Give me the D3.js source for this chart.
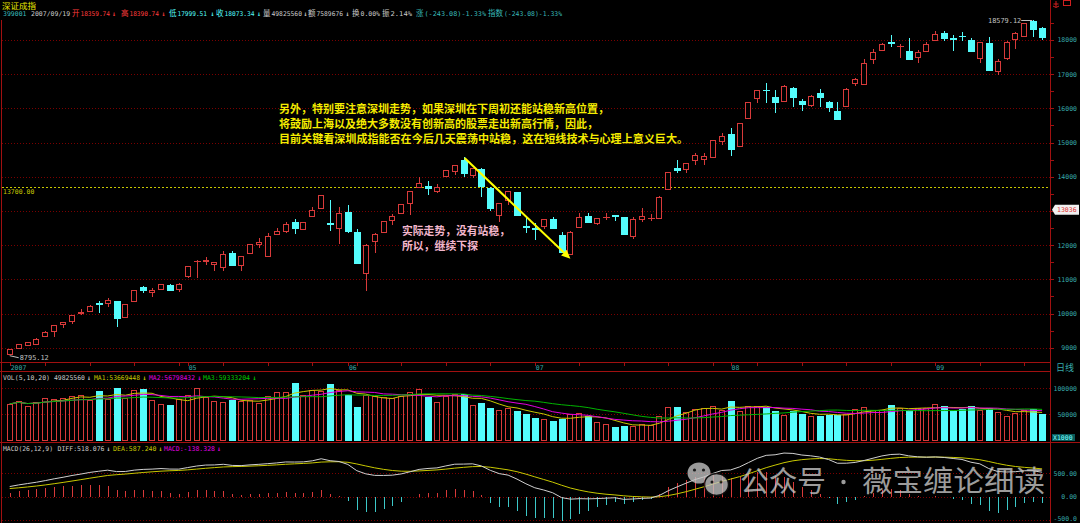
<!DOCTYPE html>
<html><head><meta charset="utf-8">
<script src="https://cdn.jsdelivr.net/npm/d3@7"></script>
<style>html,body{margin:0;padding:0;background:#000;overflow:hidden}svg{display:block}</style>
</head><body><svg id="c" width="1080" height="523"></svg>
<script>
// ---------------- data ----------------
const monthLabels = ["2007","05","06","07","08","09"];
const monthDays   = [20,18,21,22,23,13];
const openP  = [8825,8983,9088,9109,9333,9497,9693,9790,10010,10064,10295,10316,10357,9889,10375,10775,10620,10725,10842,10725,
 11106,11525,11527,11448,11369,11761,11409,11778,12041,11682,12316,12421,12676,12480,12842,13094,12650,12491,12959,12392,
 11184,12129,12383,12725,12948,13240,13690,13737,13591,14012,14176,14497,14041,14225,13679,12872,13319,13544,12560,12500,
 12567,12772,12304,11731,12521,12860,12638,12810,12870,12813,12275,12763,12780,12784,13632,14255,14217,14489,14527,14568,
 15053,15249,14898,15708,16293,16545,16339,16205,16594,16214,16097,16439,16193,15930,16076,16731,16702,17451,17705,17925,
 17820,17676,17500,17685,17989,18211,18050,18110,17989,17480,17910,17091,17480,18027,18123,18553,18359.74];
const highP  = [8975,9115,9170,9275,9488,9670,9760,9960,10130,10240,10375,10445,10370,10287,10700,10805,10737,10870,10855,10880,
 11395,11565,11644,11520,11819,11819,11695,12040,12199,12363,12491,12667,12772,12690,13106,13470,13319,13106,13173,12462,
 12030,12340,12710,12910,13210,13590,13983,13866,13778,14210,14345,14576,14260,14240,13690,13235,13590,13560,12793,12638,
 12770,12831,12383,12410,12930,12948,12800,12948,12880,12830,12813,13094,12910,13430,14145,14480,14405,14685,14685,15080,
 15269,15415,15575,16190,16540,16731,16535,16675,16610,16272,16375,16556,16205,16185,16590,16880,17433,17725,17895,18135,
 17872,18047,17705,17930,18261,18261,18144,18231,18047,17945,18076,17451,17960,18225,18500,18579.12,18390.74];
const lowP   = [8795.12,8970,9075,9100,9320,9322,9567,9693,9955,10050,10006,10181,9614,9870,10360,10609,10492,10710,10658,10638,
 11029,11030,11409,11252,11252,11390,11252,11765,11924,11665,12300,12345,12316,12465,12830,13080,12421,12024,12345,11460,
 10658,11778,12370,12588,12935,12880,13675,13465,13515,14000,14050,14000,13954,13415,13006,12667,13164,12870,12363,12149,
 12462,12495,11785,11715,12505,12670,12588,12734,12705,12320,12170,12667,12705,12770,13615,14100,14100,14342,14342,14550,
 14927,14614,14880,15690,16147,16164,15872,16190,16030,15921,16030,16047,15883,15665,16060,16661,16690,17287,17690,17784,
 17480,17435,17316,17670,17975,17968,17685,17977,17670,17316,17082,16965,17413,17734,18110,18094,17999.51];
const closeP = [8962,9100,9158,9263,9468,9655,9743,9948,10030,10228,10280,10395,9877,10269,10687,10678,10687,10854,10687,10863,
 11380,11540,11573,11506,11740,11409,11682,12024,12100,12266,12413,12626,12509,12676,13027,13456,12630,12930,12421,11477,
 12012,12325,12696,12851,13193,13573,13816,13661,13699,14196,14333,14108,14246,13737,13094,13222,13573,12889,12540,12480,
 12755,12509,11799,12392,12831,12684,12784,12830,12855,12334,12755,12842,12790,13415,14129,14187,14392,14626,14614,15065,
 15190,14810,15562,16176,16527,16530,16193,16661,16331,16117,16360,16322,16047,15679,16573,16866,17325,17638,17880,17915,
 17830,17451,17647,17872,18164,18056,18035,18100,17685,17930,17120,17392,17948,18211,18486,18319,18073.34];
const volume = [69960,75960,65960,73960,81970,79970,81970,85980,87980,77970,95320,79300,100660,80640,95990,98660,76630,69960,67960,79300,
 87310,99990,83310,74630,73960,77970,74630,76630,72630,85980,92650,92650,110670,87310,97320,95320,108670,97320,86650,64620,
 87310,85980,83310,81310,85980,92650,97990,83310,73960,85310,88650,88650,67960,72630,61280,57950,61950,56610,50610,41930,
 41260,35920,41260,49940,51940,46600,33920,31250,25910,27910,27910,31250,29250,45930,64620,64620,54610,59950,61280,65960,
 57950,74630,56610,65960,65960,64620,56610,47940,55940,51270,46600,47270,49270,49270,49940,59950,64620,57950,57950,67290,
 62620,57950,61280,61280,69290,66620,56610,59280,66620,57950,62620,54610,45930,53280,58610,59280,49825.56];
const priceTicks = [9000,10000,11000,12000,13000,14000,15000,16000,17000,18000];
const volTicks   = [{v:100000,t:"100000"},{v:50000,t:"50000"}];
const macdTicks  = [{v:500,t:"500.00"},{v:0,t:"0.00"},{v:-500,t:"-500.0"}];
// EMA states carried in from before the first visible day
const ema12Seed = 8380, ema26Seed = 8200, deaSeed = 160;
const refLine = 13700, cursorPrice = 13036;

// ---------------- setup ----------------
const N = closeP.length;
const svg = d3.select("#c");
const RED = "#d83a3a", CYAN = "#54fcfc", GRIDRED = "#7a0000", AXRED = "#a01010";
const mono = "'DejaVu Sans Mono','Liberation Mono',monospace";
const cjk = "'Noto Sans CJK SC','Noto Sans',sans-serif";
const FS = 6.5;

const x = d3.scaleBand().domain(d3.range(N)).range([5.25, 1046.55]).padding(0);
const cx = i => x(i) + x.bandwidth() / 2;
const y = d3.scaleLinear().domain([9000, 18000]).range([347.7, 39.9]);
const yv = d3.scaleLinear().domain([0, 100000]).range([440, 388.4]);
const ym = d3.scaleLinear().domain([-500, 500]).range([520.2, 473]);

svg.append("rect").attr("width",1080).attr("height",523).attr("fill","#000");

// frame lines
const frame = svg.append("g").attr("stroke", AXRED).attr("stroke-width",1).attr("shape-rendering","crispEdges");
frame.append("line").attr("x1",1.5).attr("x2",1.5).attr("y1",20).attr("y2",523);
frame.append("line").attr("x1",1050.5).attr("x2",1050.5).attr("y1",0).attr("y2",523);
frame.append("line").attr("x1",0).attr("x2",1050).attr("y1",362.5).attr("y2",362.5);
frame.append("line").attr("x1",0).attr("x2",1050).attr("y1",371.5).attr("y2",371.5);
frame.append("line").attr("x1",0).attr("x2",1080).attr("y1",442.5).attr("y2",442.5);

// grids
const grid = svg.append("g").attr("stroke", GRIDRED).attr("stroke-dasharray","1,2").attr("shape-rendering","crispEdges");
priceTicks.forEach(t => grid.append("line").attr("x1",2).attr("x2",1050).attr("y1",Math.round(y(t))+0.5).attr("y2",Math.round(y(t))+0.5));
volTicks.forEach(t => grid.append("line").attr("x1",2).attr("x2",1050).attr("y1",Math.round(yv(t.v))+0.5).attr("y2",Math.round(yv(t.v))+0.5));
macdTicks.forEach(t => grid.append("line").attr("x1",2).attr("x2",1050).attr("y1",Math.round(ym(t.v))+0.5).attr("y2",Math.round(ym(t.v))+0.5));

// right axis ticks and labels
const rax = svg.append("g");
d3.range(9000, 18501, 500).forEach(v => {
  rax.append("line").attr("x1",1051).attr("x2",1054).attr("y1",Math.round(y(v))+0.5).attr("y2",Math.round(y(v))+0.5)
     .attr("stroke",AXRED).attr("shape-rendering","crispEdges");
});
const AXC = "#36a8a8";
priceTicks.forEach(t => rax.append("text").attr("x",1077).attr("y",y(t)+2.5).attr("text-anchor","end")
  .attr("font-family",mono).attr("font-size",FS).attr("fill",AXC).text(t));
volTicks.forEach(t => rax.append("text").attr("x",1077).attr("y",yv(t.v)+2.5).attr("text-anchor","end")
  .attr("font-family",mono).attr("font-size",FS).attr("fill",AXC).text(t.t));
macdTicks.forEach(t => rax.append("text").attr("x",1077).attr("y",Math.min(ym(t.v)+2.5, 521)).attr("text-anchor","end")
  .attr("font-family",mono).attr("font-size",FS).attr("fill",AXC).text(t.t));
rax.append("text").attr("x",1056).attr("y",371).attr("font-family",cjk).attr("font-size",9).attr("fill",AXC).text("日线");
rax.append("rect").attr("x",1052).attr("y",434).attr("width",23).attr("height",7).attr("fill","#0a5a5a");
rax.append("text").attr("x",1053).attr("y",440).attr("font-family",mono).attr("font-size",FS).attr("fill","#7ff").text("X1000");

// x axis ticks and month labels
const xax = svg.append("g");
d3.range(N).filter(i => i % 5 === 4).forEach(i => xax.append("line").attr("x1",Math.round(cx(i))+0.5).attr("x2",Math.round(cx(i))+0.5)
  .attr("y1",363).attr("y2",366).attr("stroke",AXRED));
let start = 0;
monthLabels.forEach((m, k) => {
  xax.append("line").attr("x1",Math.round(cx(start))+0.5).attr("x2",Math.round(cx(start))+0.5).attr("y1",363).attr("y2",366).attr("stroke",AXRED);
  xax.append("text").attr("x",cx(start)+1).attr("y",370).attr("font-family",mono).attr("font-size",FS).attr("fill",AXC).text(m);
  start += monthDays[k];
});

// reference dashed line 13700
svg.append("line").attr("x1",2).attr("x2",1050).attr("y1",Math.round(y(refLine))+0.5).attr("y2",Math.round(y(refLine))+0.5)
  .attr("stroke","#c8c800").attr("stroke-dasharray","2,2").attr("shape-rendering","crispEdges");
svg.append("text").attr("x",3).attr("y",y(refLine)+7.5).attr("font-family",mono).attr("font-size",FS).attr("fill","#c8c800").text("13700.00");

// ---------------- candles ----------------
const cg = svg.append("g").attr("shape-rendering","crispEdges");
d3.range(N).forEach(i => {
  const up = closeP[i] >= openP[i];
  const col = up ? RED : CYAN;
  const xc = Math.round(cx(i)) + 0.5;
  const top = Math.round(y(Math.max(openP[i], closeP[i])));
  const bot = Math.round(y(Math.min(openP[i], closeP[i])));
  const hi = Math.round(y(highP[i])), lo = Math.round(y(lowP[i]));
  const left = Math.round(cx(i)) - 3;
  if (up) {
    if (hi < top) cg.append("line").attr("x1",xc).attr("x2",xc).attr("y1",hi).attr("y2",top).attr("stroke",col);
    if (lo > bot) cg.append("line").attr("x1",xc).attr("x2",xc).attr("y1",bot).attr("y2",lo).attr("stroke",col);
    if (bot - top < 1) cg.append("line").attr("x1",left).attr("x2",left+7).attr("y1",top+0.5).attr("y2",top+0.5).attr("stroke",col);
    else cg.append("rect").attr("x",left+0.5).attr("y",top+0.5).attr("width",5).attr("height",bot-top).attr("fill","#000").attr("stroke",col);
  } else {
    cg.append("line").attr("x1",xc).attr("x2",xc).attr("y1",hi).attr("y2",lo).attr("stroke",col);
    if (bot - top < 1) cg.append("line").attr("x1",left).attr("x2",left+7).attr("y1",top+0.5).attr("y2",top+0.5).attr("stroke",col);
    else cg.append("rect").attr("x",left).attr("y",top).attr("width",7).attr("height",bot-top+1).attr("fill",col);
  }
});

// extreme labels
const lowI = d3.minIndex(lowP), highI = d3.maxIndex(highP);
svg.append("line").attr("x1",cx(lowI)).attr("y1",y(lowP[lowI])+1).attr("x2",cx(lowI)+9).attr("y2",y(lowP[lowI])+3).attr("stroke","#c0c0c0");
svg.append("text").attr("x",cx(lowI)+10).attr("y",y(lowP[lowI])+5.5).attr("font-family",mono).attr("font-size",FS+0.4).attr("fill","#c0c0c0").text(d3.format(".2f")(lowP[lowI]));
svg.append("line").attr("x1",cx(highI)-12).attr("y1",Math.round(y(highP[highI]))+0.5).attr("x2",cx(highI)-1).attr("y2",Math.round(y(highP[highI]))+0.5).attr("stroke","#c0c0c0");
svg.append("text").attr("x",cx(highI)-12).attr("y",y(highP[highI])+2.5).attr("text-anchor","end").attr("font-family",mono).attr("font-size",FS+0.4).attr("fill","#c0c0c0").text(d3.format(".2f")(highP[highI]));

// cursor price tag
const cy = y(cursorPrice);
svg.append("path").attr("d",`M1052,${cy} L1055,${cy-5} L1079,${cy-5} L1079,${cy+5} L1055,${cy+5} Z`).attr("fill","#f0f0f0");
svg.append("text").attr("x",1057).attr("y",cy+2.5).attr("font-family",mono).attr("font-size",FS).attr("fill","#e03030").text(cursorPrice);

// ---------------- volume ----------------
const vg = svg.append("g").attr("shape-rendering","crispEdges");
d3.range(N).forEach(i => {
  const up = closeP[i] >= openP[i];
  const left = Math.round(cx(i)) - 3;
  const t = Math.round(yv(volume[i]));
  if (up) vg.append("rect").attr("x",left+0.5).attr("y",t+0.5).attr("width",5).attr("height",440-t).attr("fill","none").attr("stroke",RED);
  else vg.append("rect").attr("x",left).attr("y",t).attr("width",7).attr("height",441-t).attr("fill",CYAN);
});
function sma(arr, n) { return arr.map((_, i) => d3.mean(arr.slice(Math.max(0, i - n + 1), i + 1))); }
const volMA = [{n:5,c:"#c8c800"},{n:10,c:"#e000e0"},{n:20,c:"#00b400"}];
volMA.forEach(m => {
  const s = sma(volume, m.n);
  svg.append("path").attr("d", d3.line().x((d,i)=>cx(i)).y(d=>yv(d))(s)).attr("fill","none").attr("stroke",m.c).attr("stroke-width",1);
});

// ---------------- MACD ----------------
let e12 = ema12Seed, e26 = ema26Seed, dea = deaSeed;
const diff = [], deaA = [], hist = [];
closeP.forEach(c => {
  e12 = (2 * c + 11 * e12) / 13;
  e26 = (2 * c + 25 * e26) / 27;
  const d = e12 - e26;
  dea = (2 * d + 8 * dea) / 10;
  diff.push(d); deaA.push(dea); hist.push(2 * (d - dea));
});
const mg = svg.append("g").attr("shape-rendering","crispEdges");
hist.forEach((h, i) => {
  const xc = Math.round(cx(i)) + 0.5;
  mg.append("line").attr("x1",xc).attr("x2",xc).attr("y1",ym(0)).attr("y2",ym(h)).attr("stroke", h >= 0 ? RED : "#3cc8c8");
});
svg.append("path").attr("d", d3.line().x((d,i)=>cx(i)).y(d=>ym(d))(deaA)).attr("fill","none").attr("stroke","#c8c800").attr("stroke-width",1);
svg.append("path").attr("d", d3.line().x((d,i)=>cx(i)).y(d=>ym(d))(diff)).attr("fill","none").attr("stroke","#d0d0d0").attr("stroke-width",1);

// ---------------- text headers ----------------
function seg(s, x0, yy, col, w) {
  const t = svg.append("text").attr("x",x0).attr("y",yy).attr("font-family",mono).attr("font-size",FS).attr("fill",col).text(s);
  if (w) t.attr("textLength", w).attr("lengthAdjust","spacingAndGlyphs");
  return t;
}
function cj(s, x0, yy, col) {
  return svg.append("text").attr("x",x0).attr("y",yy).attr("font-family",cjk).attr("font-size",7.5).attr("fill",col).text(s);
}
function arrow(x0, yy, col) {
  return svg.append("text").attr("x",x0).attr("y",yy).attr("font-family",mono).attr("font-size",FS).attr("font-weight","bold").attr("fill",col).text("↓");
}
const TE = "#38b8b8", WH = "#c8c8c8", RD = "#ff3c3c";
svg.append("text").attr("x",2).attr("y",8.5).attr("font-family",cjk).attr("font-size",8.5).attr("fill","#e8e800").text("深证成指");
const hy = 16;
seg("399001", 3, hy, TE);
seg("2007/09/19", 31, hy, WH);
cj("开", 72, hy, RD);  seg("18359.74", 80.5, hy, RD, 29.5);  arrow(112, hy, RD);
cj("高", 121, hy, RD); seg("18390.74", 129.5, hy, RD, 29.5); arrow(161.5, hy, RD);
cj("低", 169, hy, CYAN); seg("17999.51", 177.5, hy, CYAN, 29.5); arrow(210.5, hy, CYAN);
cj("收", 216, hy, CYAN); seg("18073.34", 224.5, hy, CYAN, 30); arrow(257, hy, CYAN);
cj("量", 263, hy, WH); seg("49825560", 271.5, hy, WH, 30.5); arrow(303.5, hy, WH);
cj("额", 308, hy, WH); seg("7589676", 316.5, hy, WH, 26.5); arrow(345.5, hy, WH);
cj("换", 352, hy, WH); seg("0.00%", 360.5, hy, WH, 19.5);
cj("振", 382, hy, WH); seg("2.14%", 390.5, hy, WH, 21.5);
cj("涨", 416, hy, TE); seg("(-243.08)-1.33%", 424.5, hy, TE, 61.5);
cj("指数", 488, hy, TE); seg("(-243.08)-1.33%", 504, hy, TE, 58);

const vy = 380;
seg("VOL(5,10,20)", 3, vy, WH, 47);
seg("49825560", 54, vy, WH, 31);
arrow(87, vy, WH);
seg("MA1:53669448", 94, vy, "#c8c800", 46);
arrow(142.5, vy, "#c8c800");
seg("MA2:56798432", 149, vy, "#e000e0", 46);
arrow(197.5, vy, "#e000e0");
seg("MA3:59333204", 203, vy, "#00c800", 47);
arrow(252.5, vy, "#00c800");

const my = 451;
seg("MACD(26,12,9)", 3, my, WH, 50);
seg("DIFF:518.076", 57.5, my, WH, 47);
arrow(106.5, my, WH);
seg("DEA:587.240", 113, my, "#c8c800", 43.5);
arrow(158.5, my, "#c8c800");
seg("MACD:-138.328", 164, my, "#e000e0", 51);
arrow(217, my, "#e000e0");

// top right icons
svg.append("path").attr("d","M1056,1 L1056,7 M1053.5,4 L1058.5,4 M1053,6 Q1056,9 1059,6").attr("stroke","#d02020").attr("fill","none");
svg.append("rect").attr("x",1063.5).attr("y",0.5).attr("width",7).attr("height",5).attr("stroke","#d02020").attr("fill","none");

// ---------------- annotations ----------------
const yel = "#f5ec00";
const ann = [
  {t:"另外，特别要注意深圳走势，如果深圳在下周初还能站稳新高位置，", y:113, w:330},
  {t:"将鼓励上海以及绝大多数没有创新高的股票走出新高行情，因此，", y:128, w:319},
  {t:"目前关键看深圳成指能否在今后几天震荡中站稳，这在短线技术与心理上意义巨大。", y:142.5, w:409}
];
ann.forEach(a => svg.append("text").attr("x",279).attr("y",a.y).attr("font-family",cjk).attr("font-weight","bold")
  .attr("font-size",11).attr("fill",yel).attr("textLength",a.w).attr("lengthAdjust","spacingAndGlyphs").text(a.t));
const pink = "#f2b6cc";
svg.append("text").attr("x",402).attr("y",234.5).attr("font-family",cjk).attr("font-weight","bold").attr("font-size",11)
  .attr("fill",pink).attr("textLength",108).attr("lengthAdjust","spacingAndGlyphs").text("实际走势，没有站稳，");
svg.append("text").attr("x",402).attr("y",249.5).attr("font-family",cjk).attr("font-weight","bold").attr("font-size",11)
  .attr("fill",pink).attr("textLength",76).attr("lengthAdjust","spacingAndGlyphs").text("所以，继续下探");

// arrow from the high of day 51 down to day 63
const ax0 = cx(51) + 1, ay0 = y(highP[51]) + 1, ax1 = cx(63), ay1 = y(11600);
const ang = Math.atan2(ay1 - ay0, ax1 - ax0);
const L = 9, Wd = 4;
const bx = ax1 - L * Math.cos(ang), by = ay1 - L * Math.sin(ang);
svg.append("line").attr("x1",ax0).attr("y1",ay0).attr("x2",bx).attr("y2",by).attr("stroke","#ffff00").attr("stroke-width",2);
svg.append("path").attr("d",`M${ax1},${ay1} L${bx + Wd*Math.sin(ang)},${by - Wd*Math.cos(ang)} L${bx - Wd*Math.sin(ang)},${by + Wd*Math.cos(ang)} Z`).attr("fill","#ffff00");

// ---------------- watermark ----------------
const wm = svg.append("g").attr("opacity",0.78);
wm.append("ellipse").attr("cx",699).attr("cy",473).attr("rx",11.5).attr("ry",10.5).attr("fill","#c4c4c4");
wm.append("circle").attr("cx",694.5).attr("cy",470).attr("r",1.6).attr("fill","#222");
wm.append("circle").attr("cx",703.5).attr("cy",470).attr("r",1.6).attr("fill","#222");
wm.append("ellipse").attr("cx",716.5).attr("cy",484.5).attr("rx",12).attr("ry",11).attr("fill","#c4c4c4").attr("stroke","#111").attr("stroke-width",1.5);
wm.append("circle").attr("cx",712).attr("cy",482).attr("r",1.5).attr("fill","#222");
wm.append("circle").attr("cx",721).attr("cy",482).attr("r",1.5).attr("fill","#222");
wm.append("text").attr("x",740).attr("y",492).attr("font-family",cjk).attr("font-size",29).attr("fill","#c8c8c8")
  .attr("textLength",86).attr("lengthAdjust","spacingAndGlyphs").text("公众号");
wm.append("circle").attr("cx",843.5).attr("cy",482).attr("r",2.2).attr("fill","#c8c8c8");
wm.append("text").attr("x",862).attr("y",492).attr("font-family",cjk).attr("font-size",29).attr("fill","#c8c8c8")
  .attr("textLength",183).attr("lengthAdjust","spacingAndGlyphs").text("薇宝缠论细读");
</script></body></html>
